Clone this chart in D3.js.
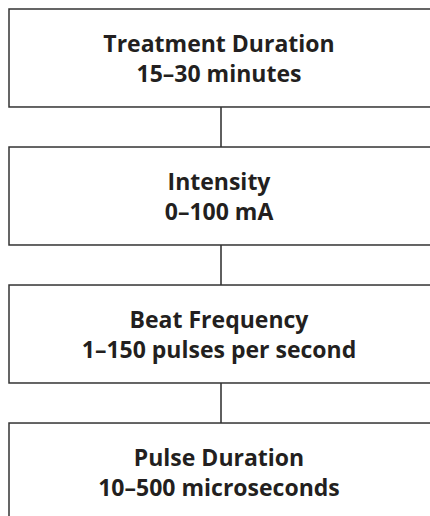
<!DOCTYPE html>
<html>
<head>
<meta charset="utf-8">
<script src="https://cdn.jsdelivr.net/npm/d3@7"></script>
<style>
  html, body { margin: 0; padding: 0; background: #fff; }
  svg { display: block; }
</style>
</head>
<body>
<div id="chart"></div>
<script>
// flowchart steps
const steps = ["Treatment Duration", "Intensity", "Beat Frequency", "Pulse Duration"];
const ranges = ["15–30 minutes", "0–100 mA", "1–150 pulses per second", "10–500 microseconds"];

const width = 430, height = 516;
const boxLeft = 9, boxRight = 445;
const cx = 221;

const svg = d3.select("#chart").append("svg")
    .attr("width", width)
    .attr("height", height);

const data = steps.map((s, i) => ({ step: s, range: ranges[i] }));

// vertical layout of the boxes
const y = d3.scaleBand()
    .domain(steps)
    .range([9, 521])
    .paddingInner(0.29)
    .paddingOuter(0);

// connectors between boxes
svg.selectAll(".link")
    .data(data.slice(1))
    .enter().append("line")
    .attr("class", "link")
    .attr("x1", cx)
    .attr("x2", cx)
    .attr("y1", d => y(steps[steps.indexOf(d.step) - 1]) + y.bandwidth())
    .attr("y2", d => y(d.step))
    .attr("stroke", "#5f5f5f")
    .attr("stroke-width", 2);

const box = svg.selectAll(".box")
    .data(data)
    .enter().append("g")
    .attr("class", "box")
    .attr("transform", d => "translate(0," + y(d.step) + ")");

box.append("rect")
    .attr("x", boxLeft)
    .attr("y", 0)
    .attr("width", boxRight - boxLeft)
    .attr("height", y.bandwidth())
    .attr("fill", "#fff")
    .attr("stroke", "#333")
    .attr("stroke-width", 1.5);

box.append("text")
    .attr("x", cx - 2)
    .attr("y", 43)
    .attr("text-anchor", "middle")
    .style("font-family", "'Open Sans', sans-serif")
    .style("font-weight", "bold")
    .style("font-size", "23px")
    .attr("fill", "#231f20")
    .text(d => d.step);

box.append("text")
    .attr("x", cx - 2)
    .attr("y", 73)
    .attr("text-anchor", "middle")
    .style("font-family", "'Open Sans', sans-serif")
    .style("font-weight", "bold")
    .style("font-size", "23px")
    .attr("fill", "#231f20")
    .text(d => d.range);
</script>
</body>
</html>
